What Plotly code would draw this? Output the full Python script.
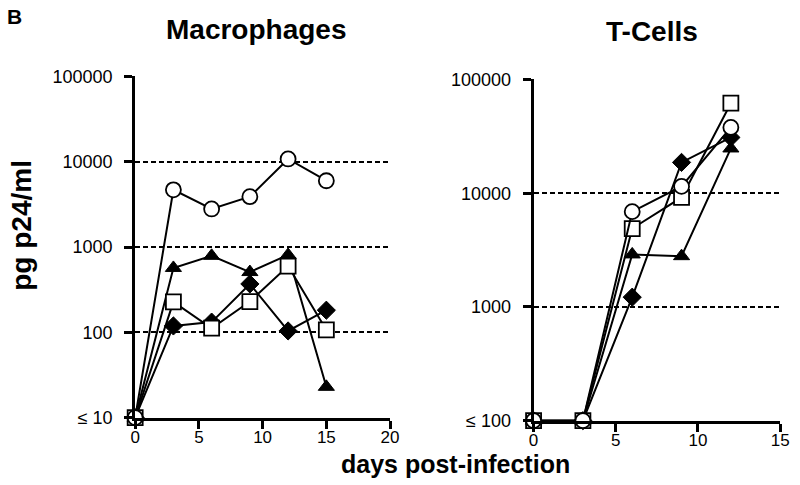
import plotly.graph_objects as go

# ---- data ----
mac_days = [0, 3, 6, 9, 12, 15]
mac_circle = [10, 4700, 2800, 3900, 10800, 6000]
mac_triangle = [10, 570, 790, 510, 810, 23]
mac_square = [10, 228, 112, 230, 600, 107]
mac_diamond = [10, 119, 132, 370, 104, 182]

t_days = [0, 3, 6, 9, 12]
t_circle = [100, 100, 6900, 11500, 38000]
t_square = [100, 100, 4900, 9200, 62000]
t_diamond = [100, 100, 1220, 18700, 31000]
t_triangle = [100, 100, 2900, 2800, 24800]

mac_ytickvals = [10, 100, 1000, 10000, 100000]
mac_yticktext = ["≤ 10", "100", "1000", "10000", "100000"]
t_ytickvals = [100, 1000, 10000, 100000]
t_yticktext = ["≤ 100", "1000", "10000", "100000"]
mac_xticks = [0, 5, 10, 15, 20]
t_xticks = [0, 5, 10, 15]

FONT = "Liberation Sans, Arial, Helvetica, sans-serif"
W, H = 800, 485

# map target picture pixels to paper fractions (compensates the capture scaling)
SX, OX = 0.979, 6.3
SY, OY = 0.9625, 8.6
def fx(px):
    return min(max(((px - OX) / SX) / W, 0), 1)
def fy(py):
    return min(max(1 - ((py - OY) / SY) / H, 0), 1)

styles = {
    "circle": dict(symbol="circle", size=15, color="white", line=dict(color="black", width=1.8)),
    "square": dict(symbol="square", size=15, color="white", line=dict(color="black", width=1.8)),
    "diamond": dict(symbol="diamond", size=14, color="black", line=dict(color="black", width=1)),
    "triangle": dict(symbol="triangle-up", size=14, color="black", line=dict(color="black", width=1)),
}

fig = go.Figure()

def add(x, y, kind, xa, ya):
    fig.add_trace(go.Scatter(
        x=x, y=y, mode="lines+markers", xaxis=xa, yaxis=ya,
        line=dict(color="black", width=2), marker=styles[kind],
        cliponaxis=False, showlegend=False))

add(mac_days, mac_triangle, "triangle", "x", "y")
add(mac_days, mac_diamond, "diamond", "x", "y")
add(mac_days, mac_square, "square", "x", "y")
add(mac_days, mac_circle, "circle", "x", "y")

add(t_days, t_triangle, "triangle", "x2", "y2")
add(t_days, t_diamond, "diamond", "x2", "y2")
add(t_days, t_square, "square", "x2", "y2")
add(t_days, t_circle, "circle", "x2", "y2")

axis_common = dict(
    showline=True, linecolor="black", linewidth=3,
    ticks="outside", ticklen=8, tickwidth=3, tickcolor="black",
    zeroline=False,
)
yfont = dict(family=FONT, size=18, color="black")
xfont = dict(family=FONT, size=17, color="black")
grid = dict(showgrid=True, gridcolor="black", gridwidth=1.8, griddash="5px,3px")

fig.update_layout(
    width=W, height=H,
    margin=dict(l=0, r=0, t=0, b=0),
    paper_bgcolor="white", plot_bgcolor="white",
    xaxis=dict(domain=[fx(136), fx(390)], range=[0, 20], tickvals=mac_xticks,
               showgrid=False, anchor="y", ticklabelstandoff=-6, tickfont=xfont,
               **axis_common),
    yaxis=dict(domain=[fy(418), fy(76)], type="log", range=[1, 5.003],
               tickvals=mac_ytickvals, ticktext=mac_yticktext,
               anchor="x", ticklabelstandoff=8, tickfont=yfont, **grid, **axis_common),
    xaxis2=dict(domain=[fx(533), 789 / W], range=[0, 15], tickvals=t_xticks,
                showgrid=False, anchor="y2", ticklabelstandoff=-6, tickfont=xfont,
                **axis_common),
    yaxis2=dict(domain=[fy(421), fy(79)], type="log", range=[2, 5.003],
                tickvals=t_ytickvals, ticktext=t_yticktext,
                anchor="x2", ticklabelstandoff=8, tickfont=yfont, **grid, **axis_common),
)

ann = [
    dict(text="<b>B</b>", x=fx(16), y=fy(16), size=21),
    dict(text="<b>Macrophages</b>", x=fx(257), y=fy(29), size=28),
    dict(text="<b>T-Cells</b>", x=fx(651), y=fy(31), size=28),
    dict(text="<b>days post-infection</b>", x=fx(455), y=1 - 474 / H, size=25),
]
for a in ann:
    fig.add_annotation(text=a["text"], x=a["x"], y=a["y"], xref="paper", yref="paper",
                       xanchor="center", yanchor="middle", showarrow=False,
                       font=dict(family=FONT, size=a["size"], color="black"))
fig.add_annotation(text="<b>pg p24/ml</b>", x=fx(22), y=fy(225), xref="paper", yref="paper",
                   textangle=-90, showarrow=False, xanchor="center", yanchor="middle",
                   font=dict(family=FONT, size=28, color="black"))

fig.write_html("out.html", config={"displayModeBar": False},
               post_script="document.body.style.margin='0';document.body.style.overflow='hidden';")
